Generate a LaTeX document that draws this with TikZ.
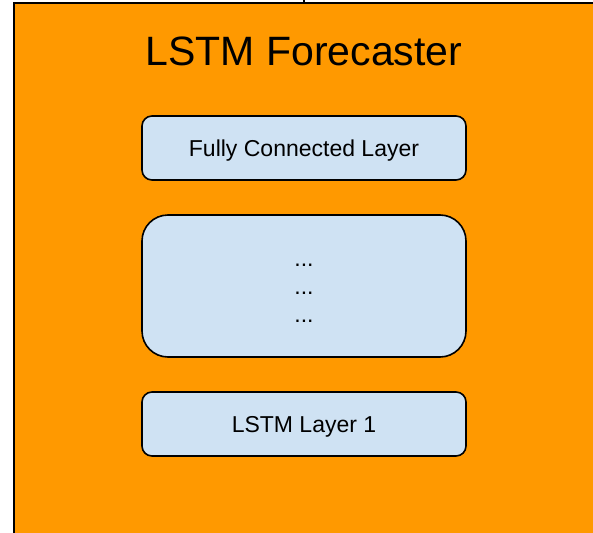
\documentclass[tikz,border=0pt]{standalone}
\usepackage{fontspec}
\setmainfont{Liberation Sans}
\definecolor{forecasterfill}{HTML}{FF9900}
\definecolor{layerfill}{HTML}{CFE2F3}
\begin{document}
\begin{tikzpicture}[x=1pt,y=-1pt,
  outerbox/.style={draw=black, line width=2pt, fill=forecasterfill, rectangle,
    minimum width=640pt, minimum height=600pt, inner sep=0pt, anchor=north west},
  layerbox/.style={draw=black, line width=1.6pt, fill=layerfill, rectangle,
    rounded corners=10pt, minimum width=324pt, minimum height=64pt,
    inner sep=0pt, text height=16.5pt, text depth=0pt,
    font=\fontsize{23}{28}\selectfont},
  bigbox/.style={layerbox, rounded corners=26pt, minimum height=142pt},
  titletext/.style={font=\fontsize{41}{49}\selectfont, anchor=base, inner sep=0pt},
  dotstext/.style={font=\fontsize{23}{28}\selectfont, anchor=base, inner sep=0pt},
  link/.style={draw=black, line width=1.6pt}]
  \useasboundingbox (0,0) rectangle (593,532);
  \clip (0,0) rectangle (593,532);

  % container block
  \node[outerbox] (forecaster) at (13,2.5) {};
  \node[titletext] (title) at (304,65.4) {LSTM Forecaster};

  % stacked layers
  \node[layerbox] (fc) at (304,148) {Fully Connected Layer};
  \node[bigbox] (mid) at (304,286) {};
  \node[dotstext] (row1) at (mid.center |- 0,266) {...};
  \node[dotstext] (row2) at (mid.center |- 0,294) {...};
  \node[dotstext] (row3) at (mid.center |- 0,322) {...};
  \node[layerbox] (lstm1) at (304,424) {LSTM Layer 1};

  % incoming connector from above
  \coordinate (incoming) at (fc.north |- 0,-5);
  \draw[link] (incoming) -- (incoming |- forecaster.north);
\end{tikzpicture}
\end{document}
